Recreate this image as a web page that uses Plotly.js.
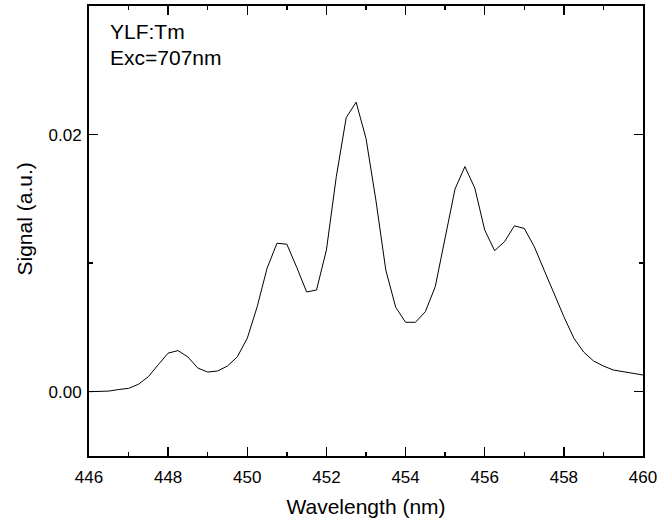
<!DOCTYPE html>
<html>
<head>
<meta charset="utf-8">
<script src="https://cdn.plot.ly/plotly-3.0.1.min.js"></script>
<style>html,body{margin:0;padding:0;background:#fff;}#chart{width:672px;height:522px;}</style>
</head>
<body>
<div id="chart"></div>
<script>
// Wavelength (nm)
const wavelength = [446, 446.25, 446.5, 446.75, 447, 447.25, 447.5, 447.75, 448, 448.25, 448.5, 448.75,
  449, 449.25, 449.5, 449.75, 450, 450.25, 450.5, 450.75, 451, 451.25, 451.5, 451.75,
  452, 452.25, 452.5, 452.75, 453, 453.25, 453.5, 453.75, 454, 454.25, 454.5, 454.75,
  455, 455.25, 455.5, 455.75, 456, 456.25, 456.5, 456.75, 457, 457.25, 457.5, 457.75,
  458, 458.25, 458.5, 458.75, 459, 459.25, 459.5, 459.75, 460];
// Signal (a.u.)
const signal = [0.0000, 0.00003, 0.00005, 0.00017, 0.00026, 0.00058, 0.00117, 0.0021, 0.0030, 0.0032, 0.0027, 0.00184,
  0.00153, 0.00161, 0.0020, 0.00272, 0.00416, 0.00661, 0.0096, 0.01155, 0.01147, 0.00967, 0.00776, 0.00791,
  0.01103, 0.01673, 0.02132, 0.02252, 0.0197, 0.0149, 0.00947, 0.00657, 0.0054, 0.0054, 0.00623, 0.00817,
  0.0119, 0.01577, 0.01751, 0.01583, 0.01258, 0.01097, 0.01167, 0.0129, 0.0127, 0.0113, 0.00947, 0.00766,
  0.00584, 0.00418, 0.00309, 0.00239, 0.0020, 0.00169, 0.00156, 0.00143, 0.0013];

const xTickVals = [446, 448, 450, 452, 454, 456, 458, 460];
const yTickVals = [0.00, 0.02];
const annotationLines = ["YLF:Tm", "Exc=707nm"];
const xTitle = "Wavelength (nm)";
const yTitle = "Signal (a.u.)";

const font = "Liberation Sans, Arial, sans-serif";

const trace = {
  x: wavelength,
  y: signal,
  type: "scatter",
  mode: "lines",
  line: {color: "#000", width: 1},
  hoverinfo: "skip"
};

const axisCommon = {
  showline: true,
  linecolor: "#000",
  linewidth: 2,
  mirror: "ticks",
  ticks: "inside",
  ticklen: 9,
  tickwidth: 1.5,
  tickcolor: "#000",
  showgrid: false,
  zeroline: false,
  tickfont: {family: font, size: 17, color: "#000"}
};

const layout = {
  width: 672,
  height: 522,
  margin: {l: 89, r: 29, t: 6, b: 66},
  paper_bgcolor: "#fff",
  plot_bgcolor: "#fff",
  showlegend: false,
  xaxis: Object.assign({}, axisCommon, {
    range: [446, 460],
    tickvals: xTickVals,
    ticktext: xTickVals.map(String),
    ticklabelstandoff: 5,
    minor: {dtick: 1, tick0: 446, ticks: "inside", ticklen: 4, tickwidth: 1.5, tickcolor: "#000"},
    title: {text: xTitle, font: {family: font, size: 21, color: "#000"}, standoff: 13}
  }),
  yaxis: Object.assign({}, axisCommon, {
    range: [-0.005, 0.030],
    tickvals: yTickVals,
    ticktext: yTickVals.map(v => v.toFixed(2)),
    ticklabelstandoff: 2,
    minor: {dtick: 0.01, tick0: 0, ticks: "inside", ticklen: 4, tickwidth: 1.5, tickcolor: "#000"}
  }),
  annotations: annotationLines.map((t, i) => ({
    text: t,
    xref: "paper",
    yref: "paper",
    x: 0.034,
    y: i === 0 ? 0.944 : 0.886,
    xanchor: "left",
    yanchor: "middle",
    showarrow: false,
    font: {family: font, size: 21, color: "#000"}
  })).concat([{
    text: yTitle,
    xref: "paper",
    yref: "paper",
    x: -0.117,
    y: 0.526,
    xanchor: "center",
    yanchor: "middle",
    textangle: -90,
    showarrow: false,
    font: {family: font, size: 21, color: "#000"}
  }])
};

Plotly.newPlot("chart", [trace], layout, {staticPlot: true, displayModeBar: false});
</script>
</body>
</html>
